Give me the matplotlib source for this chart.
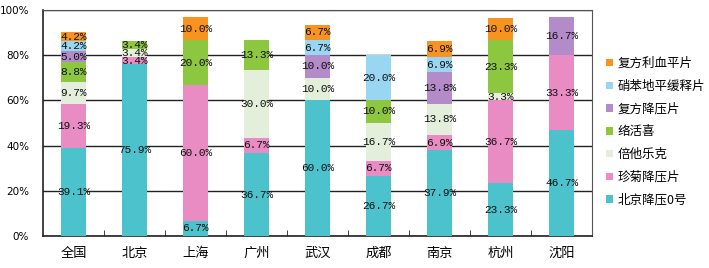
import matplotlib
matplotlib.use('Agg')
import matplotlib.pyplot as plt
import numpy as np

plt.rcParams['font.family'] = ['Noto Sans CJK SC', 'DejaVu Sans']

cities = ['全国', '北京', '上海', '广州', '武汉', '成都', '南京', '杭州', '沈阳']
drugs = ['北京降压0号', '珍菊降压片', '倍他乐克', '络活喜', '复方降压片', '硝苯地平缓释片', '复方利血平片']
colors = ['#4cc3cc', '#e98cc4', '#e3eedb', '#8dc63f', '#b38bc9', '#99d6f2', '#f7931e']

# percent per drug (rows) per city (columns)
beijing0 = [39.1, 75.9, 6.7, 36.7, 60.0, 26.7, 37.9, 23.3, 46.7]
zhenju = [19.3, 3.4, 60.0, 6.7, 0, 6.7, 6.9, 36.7, 33.3]
betaloc = [9.7, 3.4, 0, 30.0, 10.0, 16.7, 13.8, 3.3, 0]
luohuoxi = [8.8, 3.4, 20.0, 13.3, 0, 10.0, 0, 23.3, 0]
fufang = [5.0, 0, 0, 0, 10.0, 0, 13.8, 0, 16.7]
xiaoben = [4.2, 0, 0, 0, 6.7, 20.0, 6.9, 0, 0]
lixueping = [4.2, 0, 10.0, 0, 6.7, 0, 6.9, 10.0, 0]
series = [beijing0, zhenju, betaloc, luohuoxi, fufang, xiaoben, lixueping]

fig = plt.figure(figsize=(7.09, 2.68), dpi=100)
ax = fig.add_axes([43 / 709, 32 / 268, 549 / 709, 226 / 268])

x = np.arange(len(cities))
bottom = np.zeros(len(cities))
handles = []
for name, vals, c in zip(drugs, series, colors):
    vals = np.array(vals)
    h = ax.bar(x, vals, 0.41, bottom=bottom, color=c, label=name, zorder=3)
    handles.append(h)
    for xi, v, b in zip(x, vals, bottom):
        if v > 0:
            ax.text(xi, b + v / 2, '%.1f%%' % v, ha='center', va='center',
                    fontsize=8, family='Liberation Mono', color='#111111', zorder=4)
    bottom += vals

ax.set_xlim(-0.5, len(cities) - 0.5)
ax.set_ylim(0, 100)
ax.set_yticks(np.arange(0, 101, 20))
ax.set_yticklabels(['%d%%' % v for v in range(0, 101, 20)], fontsize=7.5, family='DejaVu Sans')
ax.yaxis.grid(True, color='#222222', linewidth=1.0, zorder=1)
ax.tick_params(axis='y', length=0, pad=10)
ax.set_xticks(x)
ax.set_xticklabels(cities, fontsize=9.5)
ax.tick_params(axis='x', length=0, pad=8)
ax.set_xticks(np.arange(0.5, len(cities) - 0.5, 1), minor=True)
ax.tick_params(axis='x', which='minor', direction='in', length=4, color='#222222')
for s in ['top', 'right']:
    ax.spines[s].set_color('#555555')
for s in ['left', 'bottom']:
    ax.spines[s].set_color('#222222')
    ax.spines[s].set_linewidth(1.2)

leg = fig.legend(handles[::-1], drugs[::-1], loc='upper left', bbox_to_anchor=(601 / 709, 1 - 52 / 268),
                 frameon=False, fontsize=9, handlelength=0.55, handleheight=0.55,
                 handletextpad=0.4, labelspacing=0.78, borderaxespad=0)

fig.savefig('out.png', dpi=100)
